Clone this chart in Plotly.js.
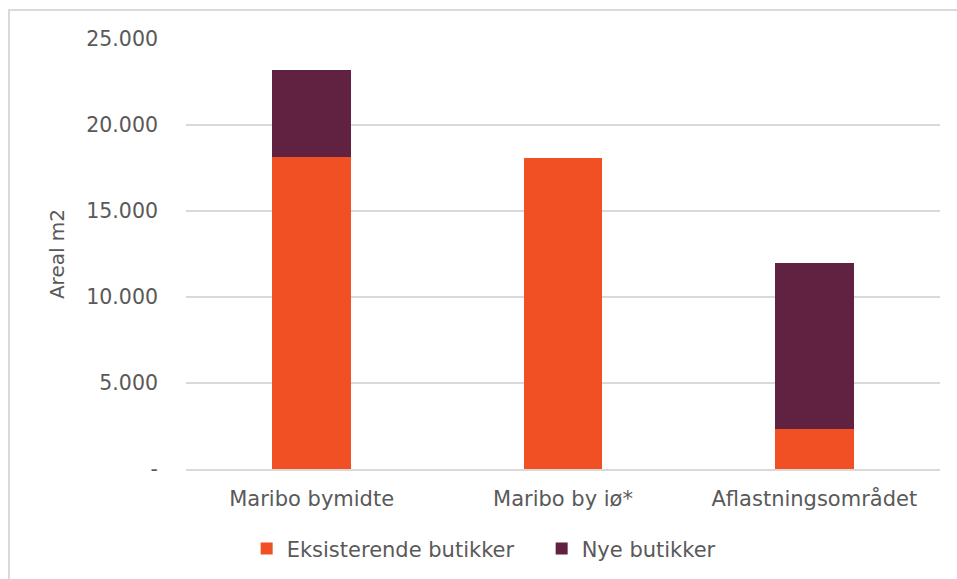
<!DOCTYPE html>
<html>
<head>
<meta charset="utf-8">
<script src="https://cdn.plot.ly/plotly-3.0.1.min.js"></script>
<style>
html,body{margin:0;padding:0;background:#fff;}
#chart{width:957px;height:579px;}
#frame{position:absolute;left:8px;top:9px;width:1000px;height:1000px;border-left:2px solid #d9d9d9;border-top:2px solid #d9d9d9;pointer-events:none;}
</style>
</head>
<body>
<div id="chart"></div>
<div id="frame"></div>
<script>
const categories = ["Maribo bymidte", "Maribo by iø*", "Aflastningsområdet"];
const eksisterende = [18150, 18100, 2300];
const nye = [5050, 0, 9650];
const tickValues = [0, 5000, 10000, 15000, 20000, 25000];
const tickLabels = ["-", "5.000", "10.000", "15.000", "20.000", "25.000"];

const fam = "DejaVu Sans, Verdana, sans-serif";
const col = "#595959";
const font = {family: fam, size: 21, color: col};
const yfont = {family: fam, size: 20.5, color: col};
const tfont = {family: fam, size: 20, color: col};

const traces = [
  {type: "bar", name: "Eksisterende butikker", x: categories, y: eksisterende,
   marker: {color: "#F05023"}, hoverinfo: "y"},
  {type: "bar", name: "Nye butikker", x: categories, y: nye,
   marker: {color: "#612140"}, hoverinfo: "y"}
];

const layout = {
  barmode: "stack",
  bargap: 0.686,
  width: 957, height: 579,
  margin: {l: 186, r: 17, t: 39, b: 110},
  paper_bgcolor: "#ffffff",
  plot_bgcolor: "#ffffff",
  font: font,
  showlegend: true,
  legend: {orientation: "h", xref: "container", yref: "container", x: 0.566, xanchor: "center",
           y: 0.052, yanchor: "middle", font: font, traceorder: "normal",
           entrywidth: 250, entrywidthmode: "pixels"},
  xaxis: {tickfont: font, showgrid: false, showline: true, linecolor: "#d9d9d9", linewidth: 2,
          ticks: "", fixedrange: true, ticklabelstandoff: 10},
  yaxis: {range: [0, 25000], tickvals: tickValues, ticktext: tickLabels,
          tickfont: yfont, gridcolor: "#d9d9d9", gridwidth: 1.3, zeroline: false,
          showline: false, ticks: "", ticklabelstandoff: 27,
          title: {text: "Areal m2", font: tfont, standoff: 16}}
};

Plotly.newPlot("chart", traces, layout, {displayModeBar: false, staticPlot: true});
</script>
</body>
</html>
